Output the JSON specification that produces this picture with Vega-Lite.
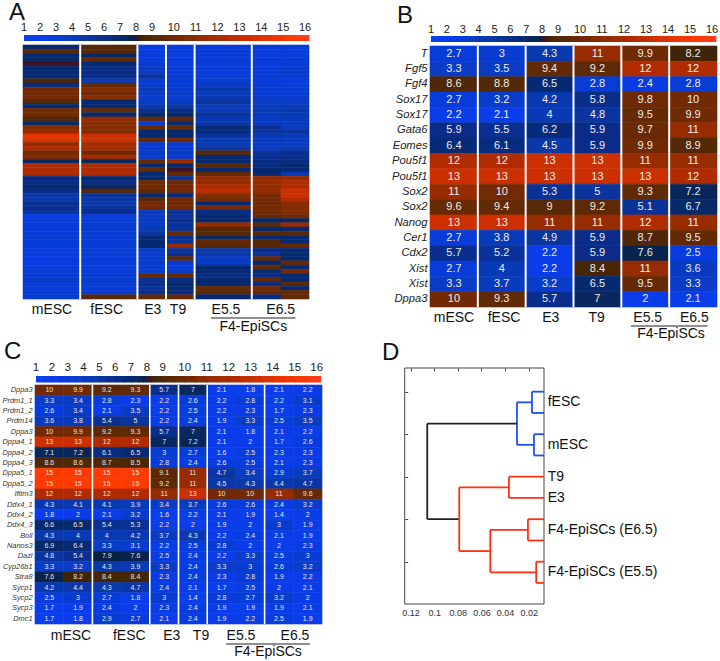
{"$schema":"https://vega.github.io/schema/vega-lite/v6.json","padding":0,"config":{"font":"Liberation Sans","view":{"stroke":null}},
"datasets":{
"aEnds":[{"c":1,"e":2},{"c":2,"e":3},{"c":3,"e":4},{"c":4,"e":5},{"c":5,"e":6},{"c":6,"e":7},{"c":7,"e":8}],
"levels":[{"l":1},{"l":2},{"l":3},{"l":4},{"l":5},{"l":6},{"l":7},{"l":8},{"l":9},{"l":10},{"l":11},{"l":12},{"l":13},{"l":14},{"l":15},{"l":16}],
"bar":[{"l":1,"n":1.55},{"l":1.5,"n":2.05},{"l":2,"n":2.55},{"l":2.5,"n":3.05},{"l":3,"n":3.55},{"l":3.5,"n":4.05},{"l":4,"n":4.55},{"l":4.5,"n":5.05},{"l":5,"n":5.55},{"l":5.5,"n":6.05},{"l":6,"n":6.55},{"l":6.5,"n":7.05},{"l":7,"n":7.55},{"l":7.5,"n":7.8},{"l":7.75,"n":8.05},{"l":8,"n":8.3},{"l":8.25,"n":8.55},{"l":8.5,"n":9.05},{"l":9,"n":9.55},{"l":9.5,"n":10.05},{"l":10,"n":10.55},{"l":10.5,"n":11.05},{"l":11,"n":11.55},{"l":11.5,"n":12.05},{"l":12,"n":12.55},{"l":12.5,"n":13.05},{"l":13,"n":13.55},{"l":13.5,"n":14.05},{"l":14,"n":14.55},{"l":14.5,"n":15.05},{"l":15,"n":15.55},{"l":15.5,"n":16.05},{"l":16,"n":16.2}],
"groups":[{"group":"mESC","order":1,"line":1},{"group":"fESC","order":2,"line":1},{"group":"E3","order":3,"line":1},{"group":"T9","order":4,"line":1},{"group":"E5.5","order":5,"line":1},{"group":"E6.5","order":6,"line":1},{"group":"F4-EpiSCs","order":5.5,"line":2}],
"sep10":[{"at":2},{"at":4},{"at":5},{"at":6},{"at":8}],
"sep6":[{"at":1},{"at":2},{"at":3},{"at":4},{"at":5}],
"a":[
{"r":0,"c":1,"v":6.5},{"r":0,"c":2,"v":9},{"r":0,"c":3,"v":2.5},{"r":0,"c":4,"v":2.5},{"r":0,"c":5,"v":2.7},{"r":0,"c":6,"v":2.7},{"r":0,"c":7,"v":2.7},
{"r":1,"c":1,"v":9},{"r":1,"c":2,"v":9},{"r":1,"c":3,"v":2.5},{"r":1,"c":4,"v":2.7},{"r":1,"c":5,"v":3},{"r":1,"c":6,"v":2.8},{"r":1,"c":7,"v":2.8},
{"r":2,"c":1,"v":6.5},{"r":2,"c":2,"v":7},{"r":2,"c":3,"v":2.7},{"r":2,"c":4,"v":2.5},{"r":2,"c":5,"v":2.7},{"r":2,"c":6,"v":2.7},{"r":2,"c":7,"v":2.7},
{"r":3,"c":1,"v":6.8},{"r":3,"c":2,"v":9.5},{"r":3,"c":3,"v":2.5},{"r":3,"c":4,"v":2.6},{"r":3,"c":5,"v":2.9},{"r":3,"c":6,"v":2.9},{"r":3,"c":7,"v":3},
{"r":4,"c":1,"v":8},{"r":4,"c":2,"v":6.5},{"r":4,"c":3,"v":3},{"r":4,"c":4,"v":2.5},{"r":4,"c":5,"v":2.7},{"r":4,"c":6,"v":2.6},{"r":4,"c":7,"v":2.6},
{"r":5,"c":1,"v":6.5},{"r":5,"c":2,"v":6},{"r":5,"c":3,"v":3.5},{"r":5,"c":4,"v":2.8},{"r":5,"c":5,"v":2.6},{"r":5,"c":6,"v":2.5},{"r":5,"c":7,"v":2.8},
{"r":6,"c":1,"v":6.5},{"r":6,"c":2,"v":6},{"r":6,"c":3,"v":3.2},{"r":6,"c":4,"v":2.5},{"r":6,"c":5,"v":2.5},{"r":6,"c":6,"v":2.7},{"r":6,"c":7,"v":3.3},
{"r":7,"c":1,"v":6.2},{"r":7,"c":2,"v":5.8},{"r":7,"c":3,"v":5},{"r":7,"c":4,"v":3},{"r":7,"c":5,"v":2.8},{"r":7,"c":6,"v":2.9},{"r":7,"c":7,"v":2.7},
{"r":8,"c":1,"v":8.5},{"r":8,"c":2,"v":4},{"r":8,"c":3,"v":3},{"r":8,"c":4,"v":2.6},{"r":8,"c":5,"v":3},{"r":8,"c":6,"v":2.5},{"r":8,"c":7,"v":2.5},
{"r":9,"c":1,"v":6},{"r":9,"c":2,"v":9.5},{"r":9,"c":3,"v":3},{"r":9,"c":4,"v":3},{"r":9,"c":5,"v":3.5},{"r":9,"c":6,"v":3},{"r":9,"c":7,"v":2.8},
{"r":10,"c":1,"v":10},{"r":10,"c":2,"v":10.5},{"r":10,"c":3,"v":4},{"r":10,"c":4,"v":3},{"r":10,"c":5,"v":4.5},{"r":10,"c":6,"v":2.7},{"r":10,"c":7,"v":3},
{"r":11,"c":1,"v":10},{"r":11,"c":2,"v":10},{"r":11,"c":3,"v":3.5},{"r":11,"c":4,"v":3.5},{"r":11,"c":5,"v":3.8},{"r":11,"c":6,"v":3},{"r":11,"c":7,"v":2.8},
{"r":12,"c":1,"v":10},{"r":12,"c":2,"v":10.5},{"r":12,"c":3,"v":3},{"r":12,"c":4,"v":3},{"r":12,"c":5,"v":4},{"r":12,"c":6,"v":3.2},{"r":12,"c":7,"v":3.2},
{"r":13,"c":1,"v":8.8},{"r":13,"c":2,"v":6.5},{"r":13,"c":3,"v":3.5},{"r":13,"c":4,"v":3.5},{"r":13,"c":5,"v":5},{"r":13,"c":6,"v":3.5},{"r":13,"c":7,"v":3.3},
{"r":14,"c":1,"v":6.5},{"r":14,"c":2,"v":6.5},{"r":14,"c":3,"v":4},{"r":14,"c":4,"v":4.5},{"r":14,"c":5,"v":4},{"r":14,"c":6,"v":3.5},{"r":14,"c":7,"v":3.8},
{"r":15,"c":1,"v":10},{"r":15,"c":2,"v":9.5},{"r":15,"c":3,"v":5.5},{"r":15,"c":4,"v":6},{"r":15,"c":5,"v":3.8},{"r":15,"c":6,"v":4},{"r":15,"c":7,"v":4.2},
{"r":16,"c":1,"v":10},{"r":16,"c":2,"v":6.5},{"r":16,"c":3,"v":6.5},{"r":16,"c":4,"v":6.5},{"r":16,"c":5,"v":5},{"r":16,"c":6,"v":3.8},{"r":16,"c":7,"v":4},
{"r":17,"c":1,"v":8.8},{"r":17,"c":2,"v":11},{"r":17,"c":3,"v":9.5},{"r":17,"c":4,"v":9.5},{"r":17,"c":5,"v":4},{"r":17,"c":6,"v":3.5},{"r":17,"c":7,"v":3.8},
{"r":18,"c":1,"v":6.8},{"r":18,"c":2,"v":10.5},{"r":18,"c":3,"v":3},{"r":18,"c":4,"v":6.5},{"r":18,"c":5,"v":4.5},{"r":18,"c":6,"v":3.5},{"r":18,"c":7,"v":3.6},
{"r":19,"c":1,"v":10.5},{"r":19,"c":2,"v":10.5},{"r":19,"c":3,"v":9.5},{"r":19,"c":4,"v":9.5},{"r":19,"c":5,"v":6.5},{"r":19,"c":6,"v":5.5},{"r":19,"c":7,"v":3.8},
{"r":20,"c":1,"v":11},{"r":20,"c":2,"v":10.5},{"r":20,"c":3,"v":6.5},{"r":20,"c":4,"v":6.5},{"r":20,"c":5,"v":6},{"r":20,"c":6,"v":5},{"r":20,"c":7,"v":5},
{"r":21,"c":1,"v":14},{"r":21,"c":2,"v":13},{"r":21,"c":3,"v":6.5},{"r":21,"c":4,"v":6.5},{"r":21,"c":5,"v":5},{"r":21,"c":6,"v":4},{"r":21,"c":7,"v":4},
{"r":22,"c":1,"v":13.5},{"r":22,"c":2,"v":13},{"r":22,"c":3,"v":9.5},{"r":22,"c":4,"v":10},{"r":22,"c":5,"v":4},{"r":22,"c":6,"v":3.5},{"r":22,"c":7,"v":3.5},
{"r":23,"c":1,"v":11},{"r":23,"c":2,"v":11.5},{"r":23,"c":3,"v":3},{"r":23,"c":4,"v":3},{"r":23,"c":5,"v":4},{"r":23,"c":6,"v":3.5},{"r":23,"c":7,"v":3.5},
{"r":24,"c":1,"v":12},{"r":24,"c":2,"v":11.5},{"r":24,"c":3,"v":3},{"r":24,"c":4,"v":3},{"r":24,"c":5,"v":4.5},{"r":24,"c":6,"v":3.5},{"r":24,"c":7,"v":4},
{"r":25,"c":1,"v":10},{"r":25,"c":2,"v":10},{"r":25,"c":3,"v":3.5},{"r":25,"c":4,"v":3.5},{"r":25,"c":5,"v":9},{"r":25,"c":6,"v":5},{"r":25,"c":7,"v":5.5},
{"r":26,"c":1,"v":10.5},{"r":26,"c":2,"v":11.5},{"r":26,"c":3,"v":3},{"r":26,"c":4,"v":3},{"r":26,"c":5,"v":6.5},{"r":26,"c":6,"v":5.5},{"r":26,"c":7,"v":5.5},
{"r":27,"c":1,"v":7},{"r":27,"c":2,"v":7},{"r":27,"c":3,"v":9.5},{"r":27,"c":4,"v":11},{"r":27,"c":5,"v":6.5},{"r":27,"c":6,"v":6},{"r":27,"c":7,"v":6},
{"r":28,"c":1,"v":12},{"r":28,"c":2,"v":12},{"r":28,"c":3,"v":6.5},{"r":28,"c":4,"v":6.5},{"r":28,"c":5,"v":9},{"r":28,"c":6,"v":6},{"r":28,"c":7,"v":6.5},
{"r":29,"c":1,"v":12},{"r":29,"c":2,"v":12},{"r":29,"c":3,"v":9.5},{"r":29,"c":4,"v":8},{"r":29,"c":5,"v":6.5},{"r":29,"c":6,"v":6.5},{"r":29,"c":7,"v":6.5},
{"r":30,"c":1,"v":12},{"r":30,"c":2,"v":12},{"r":30,"c":3,"v":6.5},{"r":30,"c":4,"v":9.5},{"r":30,"c":5,"v":9.5},{"r":30,"c":6,"v":6.5},{"r":30,"c":7,"v":4},
{"r":31,"c":1,"v":6},{"r":31,"c":2,"v":6.5},{"r":31,"c":3,"v":6.5},{"r":31,"c":4,"v":5},{"r":31,"c":5,"v":11},{"r":31,"c":6,"v":11},{"r":31,"c":7,"v":11},
{"r":32,"c":1,"v":6},{"r":32,"c":2,"v":6},{"r":32,"c":3,"v":10},{"r":32,"c":4,"v":10},{"r":32,"c":5,"v":11},{"r":32,"c":6,"v":11},{"r":32,"c":7,"v":12},
{"r":33,"c":1,"v":6.5},{"r":33,"c":2,"v":7},{"r":33,"c":3,"v":10},{"r":33,"c":4,"v":10},{"r":33,"c":5,"v":12},{"r":33,"c":6,"v":11},{"r":33,"c":7,"v":12},
{"r":34,"c":1,"v":6},{"r":34,"c":2,"v":9},{"r":34,"c":3,"v":9.5},{"r":34,"c":4,"v":10},{"r":34,"c":5,"v":12.5},{"r":34,"c":6,"v":11},{"r":34,"c":7,"v":13},
{"r":35,"c":1,"v":4.5},{"r":35,"c":2,"v":5},{"r":35,"c":3,"v":6.5},{"r":35,"c":4,"v":6},{"r":35,"c":5,"v":10.5},{"r":35,"c":6,"v":10},{"r":35,"c":7,"v":13},
{"r":36,"c":1,"v":4.5},{"r":36,"c":2,"v":4.5},{"r":36,"c":3,"v":9},{"r":36,"c":4,"v":10},{"r":36,"c":5,"v":10},{"r":36,"c":6,"v":10},{"r":36,"c":7,"v":12},
{"r":37,"c":1,"v":5.5},{"r":37,"c":2,"v":4.5},{"r":37,"c":3,"v":10},{"r":37,"c":4,"v":10},{"r":37,"c":5,"v":6.5},{"r":37,"c":6,"v":10},{"r":37,"c":7,"v":10.5},
{"r":38,"c":1,"v":5.5},{"r":38,"c":2,"v":5},{"r":38,"c":3,"v":10},{"r":38,"c":4,"v":10},{"r":38,"c":5,"v":10},{"r":38,"c":6,"v":10},{"r":38,"c":7,"v":10.5},
{"r":39,"c":1,"v":5},{"r":39,"c":2,"v":5.5},{"r":39,"c":3,"v":3.5},{"r":39,"c":4,"v":5},{"r":39,"c":5,"v":6},{"r":39,"c":6,"v":10},{"r":39,"c":7,"v":10.5},
{"r":40,"c":1,"v":2.5},{"r":40,"c":2,"v":2.7},{"r":40,"c":3,"v":3.5},{"r":40,"c":4,"v":5},{"r":40,"c":5,"v":6.5},{"r":40,"c":6,"v":9.5},{"r":40,"c":7,"v":10},
{"r":41,"c":1,"v":2.5},{"r":41,"c":2,"v":2.6},{"r":41,"c":3,"v":3.5},{"r":41,"c":4,"v":5.5},{"r":41,"c":5,"v":6.5},{"r":41,"c":6,"v":6.5},{"r":41,"c":7,"v":7},
{"r":42,"c":1,"v":2.7},{"r":42,"c":2,"v":3},{"r":42,"c":3,"v":3.5},{"r":42,"c":4,"v":5},{"r":42,"c":5,"v":11},{"r":42,"c":6,"v":9},{"r":42,"c":7,"v":11},
{"r":43,"c":1,"v":2.8},{"r":43,"c":2,"v":3},{"r":43,"c":3,"v":4},{"r":43,"c":4,"v":5},{"r":43,"c":5,"v":9},{"r":43,"c":6,"v":6.5},{"r":43,"c":7,"v":6.5},
{"r":44,"c":1,"v":2.7},{"r":44,"c":2,"v":3},{"r":44,"c":3,"v":5},{"r":44,"c":4,"v":9.5},{"r":44,"c":5,"v":9},{"r":44,"c":6,"v":9},{"r":44,"c":7,"v":9},
{"r":45,"c":1,"v":3},{"r":45,"c":2,"v":2.9},{"r":45,"c":3,"v":6.5},{"r":45,"c":4,"v":5.5},{"r":45,"c":5,"v":7},{"r":45,"c":6,"v":6.5},{"r":45,"c":7,"v":6.5},
{"r":46,"c":1,"v":2.8},{"r":46,"c":2,"v":2.8},{"r":46,"c":3,"v":6.5},{"r":46,"c":4,"v":5},{"r":46,"c":5,"v":9.5},{"r":46,"c":6,"v":8.8},{"r":46,"c":7,"v":6.5},
{"r":47,"c":1,"v":2.6},{"r":47,"c":2,"v":3},{"r":47,"c":3,"v":6.5},{"r":47,"c":4,"v":11},{"r":47,"c":5,"v":9},{"r":47,"c":6,"v":9},{"r":47,"c":7,"v":9.5},
{"r":48,"c":1,"v":2.5},{"r":48,"c":2,"v":2.7},{"r":48,"c":3,"v":3.5},{"r":48,"c":4,"v":5},{"r":48,"c":5,"v":4.5},{"r":48,"c":6,"v":6},{"r":48,"c":7,"v":6.5},
{"r":49,"c":1,"v":2.5},{"r":49,"c":2,"v":2.8},{"r":49,"c":3,"v":3.2},{"r":49,"c":4,"v":5.5},{"r":49,"c":5,"v":4.5},{"r":49,"c":6,"v":5},{"r":49,"c":7,"v":6.5},
{"r":50,"c":1,"v":2.3},{"r":50,"c":2,"v":2.5},{"r":50,"c":3,"v":3.2},{"r":50,"c":4,"v":9.5},{"r":50,"c":5,"v":3.5},{"r":50,"c":6,"v":9.5},{"r":50,"c":7,"v":6.5},
{"r":51,"c":1,"v":2.5},{"r":51,"c":2,"v":2.7},{"r":51,"c":3,"v":3.2},{"r":51,"c":4,"v":3},{"r":51,"c":5,"v":3.5},{"r":51,"c":6,"v":6.5},{"r":51,"c":7,"v":9.5},
{"r":52,"c":1,"v":2.7},{"r":52,"c":2,"v":2.7},{"r":52,"c":3,"v":3},{"r":52,"c":4,"v":2.8},{"r":52,"c":5,"v":6.5},{"r":52,"c":6,"v":9.5},{"r":52,"c":7,"v":6.5},
{"r":53,"c":1,"v":3},{"r":53,"c":2,"v":2.8},{"r":53,"c":3,"v":3.2},{"r":53,"c":4,"v":3.5},{"r":53,"c":5,"v":6.5},{"r":53,"c":6,"v":6.5},{"r":53,"c":7,"v":10},
{"r":54,"c":1,"v":3},{"r":54,"c":2,"v":3},{"r":54,"c":3,"v":9.5},{"r":54,"c":4,"v":9.5},{"r":54,"c":5,"v":6},{"r":54,"c":6,"v":6},{"r":54,"c":7,"v":6.5},
{"r":55,"c":1,"v":3.5},{"r":55,"c":2,"v":3.2},{"r":55,"c":3,"v":5.5},{"r":55,"c":4,"v":6},{"r":55,"c":5,"v":6.5},{"r":55,"c":6,"v":9.5},{"r":55,"c":7,"v":6.5},
{"r":56,"c":1,"v":2.8},{"r":56,"c":2,"v":3},{"r":56,"c":3,"v":5.5},{"r":56,"c":4,"v":6.5},{"r":56,"c":5,"v":6.5},{"r":56,"c":6,"v":6},{"r":56,"c":7,"v":9},
{"r":57,"c":1,"v":2.7},{"r":57,"c":2,"v":2.7},{"r":57,"c":3,"v":5},{"r":57,"c":4,"v":6.5},{"r":57,"c":5,"v":9.5},{"r":57,"c":6,"v":10},{"r":57,"c":7,"v":6.5},
{"r":58,"c":1,"v":2.8},{"r":58,"c":2,"v":3},{"r":58,"c":3,"v":5.5},{"r":58,"c":4,"v":6},{"r":58,"c":5,"v":9},{"r":58,"c":6,"v":9.5},{"r":58,"c":7,"v":9.5},
{"r":59,"c":1,"v":3},{"r":59,"c":2,"v":9},{"r":59,"c":3,"v":9.5},{"r":59,"c":4,"v":9.5},{"r":59,"c":5,"v":6.5},{"r":59,"c":6,"v":6},{"r":59,"c":7,"v":9.5}],
"b":[
{"g":"T","c":1,"v":2.7},{"g":"T","c":2,"v":3},{"g":"T","c":3,"v":4.3},{"g":"T","c":4,"v":11},{"g":"T","c":5,"v":9.9},{"g":"T","c":6,"v":8.2},
{"g":"Fgf5","c":1,"v":3.3},{"g":"Fgf5","c":2,"v":3.5},{"g":"Fgf5","c":3,"v":9.4},{"g":"Fgf5","c":4,"v":9.2},{"g":"Fgf5","c":5,"v":12},{"g":"Fgf5","c":6,"v":12},
{"g":"Fgf4","c":1,"v":8.6},{"g":"Fgf4","c":2,"v":8.8},{"g":"Fgf4","c":3,"v":6.5},{"g":"Fgf4","c":4,"v":2.8},{"g":"Fgf4","c":5,"v":2.4},{"g":"Fgf4","c":6,"v":2.8},
{"g":"Sox17#1","c":1,"v":2.7},{"g":"Sox17#1","c":2,"v":3.2},{"g":"Sox17#1","c":3,"v":4.2},{"g":"Sox17#1","c":4,"v":5.8},{"g":"Sox17#1","c":5,"v":9.8},{"g":"Sox17#1","c":6,"v":10},
{"g":"Sox17#2","c":1,"v":2.2},{"g":"Sox17#2","c":2,"v":2.1},{"g":"Sox17#2","c":3,"v":4},{"g":"Sox17#2","c":4,"v":4.8},{"g":"Sox17#2","c":5,"v":9.5},{"g":"Sox17#2","c":6,"v":9.9},
{"g":"Gata6","c":1,"v":5.9},{"g":"Gata6","c":2,"v":5.5},{"g":"Gata6","c":3,"v":6.2},{"g":"Gata6","c":4,"v":5.9},{"g":"Gata6","c":5,"v":9.7},{"g":"Gata6","c":6,"v":11},
{"g":"Eomes","c":1,"v":6.4},{"g":"Eomes","c":2,"v":6.1},{"g":"Eomes","c":3,"v":4.5},{"g":"Eomes","c":4,"v":5.9},{"g":"Eomes","c":5,"v":9.9},{"g":"Eomes","c":6,"v":8.9},
{"g":"Pou5f1#1","c":1,"v":12},{"g":"Pou5f1#1","c":2,"v":12},{"g":"Pou5f1#1","c":3,"v":13},{"g":"Pou5f1#1","c":4,"v":13},{"g":"Pou5f1#1","c":5,"v":11},{"g":"Pou5f1#1","c":6,"v":11},
{"g":"Pou5f1#2","c":1,"v":13},{"g":"Pou5f1#2","c":2,"v":13},{"g":"Pou5f1#2","c":3,"v":13},{"g":"Pou5f1#2","c":4,"v":13},{"g":"Pou5f1#2","c":5,"v":13},{"g":"Pou5f1#2","c":6,"v":12},
{"g":"Sox2#1","c":1,"v":11},{"g":"Sox2#1","c":2,"v":10},{"g":"Sox2#1","c":3,"v":5.3},{"g":"Sox2#1","c":4,"v":5},{"g":"Sox2#1","c":5,"v":9.3},{"g":"Sox2#1","c":6,"v":7.2},
{"g":"Sox2#2","c":1,"v":9.6},{"g":"Sox2#2","c":2,"v":9.4},{"g":"Sox2#2","c":3,"v":9},{"g":"Sox2#2","c":4,"v":9.2},{"g":"Sox2#2","c":5,"v":5.1},{"g":"Sox2#2","c":6,"v":6.7},
{"g":"Nanog","c":1,"v":13},{"g":"Nanog","c":2,"v":13},{"g":"Nanog","c":3,"v":11},{"g":"Nanog","c":4,"v":11},{"g":"Nanog","c":5,"v":12},{"g":"Nanog","c":6,"v":11},
{"g":"Cer1","c":1,"v":2.7},{"g":"Cer1","c":2,"v":3.8},{"g":"Cer1","c":3,"v":4.9},{"g":"Cer1","c":4,"v":5.9},{"g":"Cer1","c":5,"v":8.7},{"g":"Cer1","c":6,"v":9.5},
{"g":"Cdx2","c":1,"v":5.7},{"g":"Cdx2","c":2,"v":5.2},{"g":"Cdx2","c":3,"v":2.2},{"g":"Cdx2","c":4,"v":5.9},{"g":"Cdx2","c":5,"v":7.6},{"g":"Cdx2","c":6,"v":2.5},
{"g":"Xist#1","c":1,"v":2.7},{"g":"Xist#1","c":2,"v":4},{"g":"Xist#1","c":3,"v":2.2},{"g":"Xist#1","c":4,"v":8.4},{"g":"Xist#1","c":5,"v":11},{"g":"Xist#1","c":6,"v":3.6},
{"g":"Xist#2","c":1,"v":3.3},{"g":"Xist#2","c":2,"v":3.7},{"g":"Xist#2","c":3,"v":3.2},{"g":"Xist#2","c":4,"v":6.5},{"g":"Xist#2","c":5,"v":9.5},{"g":"Xist#2","c":6,"v":3.3},
{"g":"Dppa3","c":1,"v":10},{"g":"Dppa3","c":2,"v":9.3},{"g":"Dppa3","c":3,"v":5.7},{"g":"Dppa3","c":4,"v":7},{"g":"Dppa3","c":5,"v":2},{"g":"Dppa3","c":6,"v":2.1}],
"c":[
{"g":"Dppa3#1","c":1,"v":10},{"g":"Dppa3#1","c":2,"v":9.9},{"g":"Dppa3#1","c":3,"v":9.2},{"g":"Dppa3#1","c":4,"v":9.3},{"g":"Dppa3#1","c":5,"v":5.7},{"g":"Dppa3#1","c":6,"v":7},{"g":"Dppa3#1","c":7,"v":2.1},{"g":"Dppa3#1","c":8,"v":1.8},{"g":"Dppa3#1","c":9,"v":2.1},{"g":"Dppa3#1","c":10,"v":2.2},
{"g":"Prdm1_1","c":1,"v":3.3},{"g":"Prdm1_1","c":2,"v":3.4},{"g":"Prdm1_1","c":3,"v":2.8},{"g":"Prdm1_1","c":4,"v":2.3},{"g":"Prdm1_1","c":5,"v":2.2},{"g":"Prdm1_1","c":6,"v":2.6},{"g":"Prdm1_1","c":7,"v":2.2},{"g":"Prdm1_1","c":8,"v":2.8},{"g":"Prdm1_1","c":9,"v":2.2},{"g":"Prdm1_1","c":10,"v":3.1},
{"g":"Prdm1_2","c":1,"v":2.6},{"g":"Prdm1_2","c":2,"v":3.4},{"g":"Prdm1_2","c":3,"v":2.1},{"g":"Prdm1_2","c":4,"v":3.5},{"g":"Prdm1_2","c":5,"v":2.2},{"g":"Prdm1_2","c":6,"v":2.5},{"g":"Prdm1_2","c":7,"v":2.2},{"g":"Prdm1_2","c":8,"v":2.3},{"g":"Prdm1_2","c":9,"v":1.7},{"g":"Prdm1_2","c":10,"v":2.3},
{"g":"Prdm14","c":1,"v":3.6},{"g":"Prdm14","c":2,"v":3.8},{"g":"Prdm14","c":3,"v":5.4},{"g":"Prdm14","c":4,"v":5},{"g":"Prdm14","c":5,"v":2.2},{"g":"Prdm14","c":6,"v":2.4},{"g":"Prdm14","c":7,"v":1.9},{"g":"Prdm14","c":8,"v":3.3},{"g":"Prdm14","c":9,"v":2.5},{"g":"Prdm14","c":10,"v":3.5},
{"g":"Dppa3#2","c":1,"v":10},{"g":"Dppa3#2","c":2,"v":9.9},{"g":"Dppa3#2","c":3,"v":9.2},{"g":"Dppa3#2","c":4,"v":9.3},{"g":"Dppa3#2","c":5,"v":5.7},{"g":"Dppa3#2","c":6,"v":7},{"g":"Dppa3#2","c":7,"v":2.1},{"g":"Dppa3#2","c":8,"v":1.8},{"g":"Dppa3#2","c":9,"v":2.1},{"g":"Dppa3#2","c":10,"v":2.2},
{"g":"Dppa4_1","c":1,"v":13},{"g":"Dppa4_1","c":2,"v":13},{"g":"Dppa4_1","c":3,"v":12},{"g":"Dppa4_1","c":4,"v":12},{"g":"Dppa4_1","c":5,"v":7},{"g":"Dppa4_1","c":6,"v":7.2},{"g":"Dppa4_1","c":7,"v":2.1},{"g":"Dppa4_1","c":8,"v":2},{"g":"Dppa4_1","c":9,"v":1.7},{"g":"Dppa4_1","c":10,"v":2.6},
{"g":"Dppa4_2","c":1,"v":7.1},{"g":"Dppa4_2","c":2,"v":7.2},{"g":"Dppa4_2","c":3,"v":6.1},{"g":"Dppa4_2","c":4,"v":6.5},{"g":"Dppa4_2","c":5,"v":3},{"g":"Dppa4_2","c":6,"v":2.7},{"g":"Dppa4_2","c":7,"v":1.6},{"g":"Dppa4_2","c":8,"v":2.5},{"g":"Dppa4_2","c":9,"v":2.3},{"g":"Dppa4_2","c":10,"v":2.3},
{"g":"Dppa4_3","c":1,"v":8.6},{"g":"Dppa4_3","c":2,"v":8.6},{"g":"Dppa4_3","c":3,"v":8.7},{"g":"Dppa4_3","c":4,"v":8.5},{"g":"Dppa4_3","c":5,"v":2.8},{"g":"Dppa4_3","c":6,"v":2.4},{"g":"Dppa4_3","c":7,"v":2.6},{"g":"Dppa4_3","c":8,"v":2.5},{"g":"Dppa4_3","c":9,"v":2.1},{"g":"Dppa4_3","c":10,"v":2.3},
{"g":"Dppa5_1","c":1,"v":15},{"g":"Dppa5_1","c":2,"v":15},{"g":"Dppa5_1","c":3,"v":15},{"g":"Dppa5_1","c":4,"v":15},{"g":"Dppa5_1","c":5,"v":9.1},{"g":"Dppa5_1","c":6,"v":11},{"g":"Dppa5_1","c":7,"v":4.7},{"g":"Dppa5_1","c":8,"v":3.4},{"g":"Dppa5_1","c":9,"v":2.9},{"g":"Dppa5_1","c":10,"v":3.7},
{"g":"Dppa5_2","c":1,"v":15},{"g":"Dppa5_2","c":2,"v":15},{"g":"Dppa5_2","c":3,"v":15},{"g":"Dppa5_2","c":4,"v":15},{"g":"Dppa5_2","c":5,"v":9.2},{"g":"Dppa5_2","c":6,"v":11},{"g":"Dppa5_2","c":7,"v":4.5},{"g":"Dppa5_2","c":8,"v":4.3},{"g":"Dppa5_2","c":9,"v":4.4},{"g":"Dppa5_2","c":10,"v":4.7},
{"g":"Ifitm3","c":1,"v":12},{"g":"Ifitm3","c":2,"v":12},{"g":"Ifitm3","c":3,"v":12},{"g":"Ifitm3","c":4,"v":12},{"g":"Ifitm3","c":5,"v":11},{"g":"Ifitm3","c":6,"v":13},{"g":"Ifitm3","c":7,"v":10},{"g":"Ifitm3","c":8,"v":10},{"g":"Ifitm3","c":9,"v":11},{"g":"Ifitm3","c":10,"v":9.6},
{"g":"Ddx4_1","c":1,"v":4.3},{"g":"Ddx4_1","c":2,"v":4.1},{"g":"Ddx4_1","c":3,"v":4.1},{"g":"Ddx4_1","c":4,"v":3.9},{"g":"Ddx4_1","c":5,"v":3.4},{"g":"Ddx4_1","c":6,"v":3.7},{"g":"Ddx4_1","c":7,"v":2.6},{"g":"Ddx4_1","c":8,"v":2.6},{"g":"Ddx4_1","c":9,"v":2.4},{"g":"Ddx4_1","c":10,"v":3.2},
{"g":"Ddx4_2","c":1,"v":1.8},{"g":"Ddx4_2","c":2,"v":2},{"g":"Ddx4_2","c":3,"v":2.1},{"g":"Ddx4_2","c":4,"v":3.2},{"g":"Ddx4_2","c":5,"v":1.6},{"g":"Ddx4_2","c":6,"v":2.2},{"g":"Ddx4_2","c":7,"v":2.1},{"g":"Ddx4_2","c":8,"v":1.9},{"g":"Ddx4_2","c":9,"v":1.4},{"g":"Ddx4_2","c":10,"v":2},
{"g":"Ddx4_3","c":1,"v":6.6},{"g":"Ddx4_3","c":2,"v":6.5},{"g":"Ddx4_3","c":3,"v":5.4},{"g":"Ddx4_3","c":4,"v":5.3},{"g":"Ddx4_3","c":5,"v":2.2},{"g":"Ddx4_3","c":6,"v":2},{"g":"Ddx4_3","c":7,"v":1.9},{"g":"Ddx4_3","c":8,"v":2},{"g":"Ddx4_3","c":9,"v":3},{"g":"Ddx4_3","c":10,"v":1.9},
{"g":"Boll","c":1,"v":4.3},{"g":"Boll","c":2,"v":4},{"g":"Boll","c":3,"v":4},{"g":"Boll","c":4,"v":4.2},{"g":"Boll","c":5,"v":3.7},{"g":"Boll","c":6,"v":4.3},{"g":"Boll","c":7,"v":2.2},{"g":"Boll","c":8,"v":2.4},{"g":"Boll","c":9,"v":2.1},{"g":"Boll","c":10,"v":1.9},
{"g":"Nanos3","c":1,"v":6.9},{"g":"Nanos3","c":2,"v":6.4},{"g":"Nanos3","c":3,"v":3.3},{"g":"Nanos3","c":4,"v":3.1},{"g":"Nanos3","c":5,"v":2.2},{"g":"Nanos3","c":6,"v":2.5},{"g":"Nanos3","c":7,"v":2.8},{"g":"Nanos3","c":8,"v":2},{"g":"Nanos3","c":9,"v":2},{"g":"Nanos3","c":10,"v":2.3},
{"g":"Dazl","c":1,"v":4.8},{"g":"Dazl","c":2,"v":5.4},{"g":"Dazl","c":3,"v":7.9},{"g":"Dazl","c":4,"v":7.6},{"g":"Dazl","c":5,"v":2.5},{"g":"Dazl","c":6,"v":2.4},{"g":"Dazl","c":7,"v":2.2},{"g":"Dazl","c":8,"v":3.3},{"g":"Dazl","c":9,"v":2.5},{"g":"Dazl","c":10,"v":3},
{"g":"Cyp26b1","c":1,"v":3.3},{"g":"Cyp26b1","c":2,"v":3.2},{"g":"Cyp26b1","c":3,"v":4.3},{"g":"Cyp26b1","c":4,"v":3.9},{"g":"Cyp26b1","c":5,"v":3.3},{"g":"Cyp26b1","c":6,"v":2.4},{"g":"Cyp26b1","c":7,"v":3.3},{"g":"Cyp26b1","c":8,"v":3},{"g":"Cyp26b1","c":9,"v":2.6},{"g":"Cyp26b1","c":10,"v":3.2},
{"g":"Stra8","c":1,"v":7.6},{"g":"Stra8","c":2,"v":8.2},{"g":"Stra8","c":3,"v":8.4},{"g":"Stra8","c":4,"v":8.4},{"g":"Stra8","c":5,"v":2.3},{"g":"Stra8","c":6,"v":2.4},{"g":"Stra8","c":7,"v":2.3},{"g":"Stra8","c":8,"v":2.8},{"g":"Stra8","c":9,"v":1.9},{"g":"Stra8","c":10,"v":2.2},
{"g":"Sycp1","c":1,"v":4.2},{"g":"Sycp1","c":2,"v":4.4},{"g":"Sycp1","c":3,"v":4.3},{"g":"Sycp1","c":4,"v":4.7},{"g":"Sycp1","c":5,"v":2.4},{"g":"Sycp1","c":6,"v":2.1},{"g":"Sycp1","c":7,"v":1.7},{"g":"Sycp1","c":8,"v":2.5},{"g":"Sycp1","c":9,"v":2},{"g":"Sycp1","c":10,"v":2.1},
{"g":"Sycp2","c":1,"v":2.5},{"g":"Sycp2","c":2,"v":3},{"g":"Sycp2","c":3,"v":2.7},{"g":"Sycp2","c":4,"v":1.8},{"g":"Sycp2","c":5,"v":3},{"g":"Sycp2","c":6,"v":1.4},{"g":"Sycp2","c":7,"v":2.8},{"g":"Sycp2","c":8,"v":2.7},{"g":"Sycp2","c":9,"v":3.2},{"g":"Sycp2","c":10,"v":2},
{"g":"Sycp3","c":1,"v":1.7},{"g":"Sycp3","c":2,"v":1.9},{"g":"Sycp3","c":3,"v":2.4},{"g":"Sycp3","c":4,"v":2},{"g":"Sycp3","c":5,"v":2.3},{"g":"Sycp3","c":6,"v":2.4},{"g":"Sycp3","c":7,"v":1.9},{"g":"Sycp3","c":8,"v":1.9},{"g":"Sycp3","c":9,"v":1.9},{"g":"Sycp3","c":10,"v":2.1},
{"g":"Dmc1","c":1,"v":1.7},{"g":"Dmc1","c":2,"v":1.8},{"g":"Dmc1","c":3,"v":2.9},{"g":"Dmc1","c":4,"v":2.7},{"g":"Dmc1","c":5,"v":2.1},{"g":"Dmc1","c":6,"v":2.4},{"g":"Dmc1","c":7,"v":1.9},{"g":"Dmc1","c":8,"v":2.2},{"g":"Dmc1","c":9,"v":2.5},{"g":"Dmc1","c":10,"v":1.9}],
"links":[
{"a":0.007,"b":0.0172,"p":1,"q":1,"k":"blue"},{"a":0.0172,"b":0.0172,"p":1,"q":2,"k":"blue"},{"a":0.007,"b":0.0172,"p":2,"q":2,"k":"blue"},
{"a":0.007,"b":0.0155,"p":3,"q":3,"k":"blue"},{"a":0.0155,"b":0.0155,"p":3,"q":4,"k":"blue"},{"a":0.007,"b":0.0155,"p":4,"q":4,"k":"blue"},
{"a":0.0172,"b":0.0299,"p":1.5,"q":1.5,"k":"blue"},{"a":0.0155,"b":0.0299,"p":3.5,"q":3.5,"k":"blue"},{"a":0.0299,"b":0.0299,"p":1.5,"q":3.5,"k":"blue"},
{"a":0.0299,"b":0.1059,"p":2.5,"q":2.5,"k":"black"},{"a":0.1059,"b":0.1059,"p":2.5,"q":7,"k":"black"},{"a":0.0788,"b":0.1059,"p":7,"q":7,"k":"black"},
{"a":0.007,"b":0.0367,"p":5,"q":5,"k":"red"},{"a":0.007,"b":0.0367,"p":6,"q":6,"k":"red"},{"a":0.0367,"b":0.0367,"p":5,"q":6,"k":"red"},
{"a":0.0367,"b":0.0788,"p":5.5,"q":5.5,"k":"red"},{"a":0.0788,"b":0.0788,"p":5.5,"q":8.5,"k":"red"},{"a":0.0525,"b":0.0788,"p":8.5,"q":8.5,"k":"red"},
{"a":0.0525,"b":0.0525,"p":7.5,"q":9.5,"k":"red"},{"a":0.0206,"b":0.0525,"p":7.5,"q":7.5,"k":"red"},{"a":0.0136,"b":0.0525,"p":9.5,"q":9.5,"k":"red"},
{"a":0.007,"b":0.0206,"p":7,"q":7,"k":"red"},{"a":0.007,"b":0.0206,"p":8,"q":8,"k":"red"},{"a":0.0206,"b":0.0206,"p":7,"q":8,"k":"red"},
{"a":0.007,"b":0.0136,"p":9,"q":9,"k":"red"},{"a":0.007,"b":0.0136,"p":10,"q":10,"k":"red"},{"a":0.0136,"b":0.0136,"p":9,"q":10,"k":"red"}],
"leaves":[{"name":"fESC","leaf":1.5},{"name":"mESC","leaf":3.5},{"name":"T9","leaf":5},{"name":"E3","leaf":6},{"name":"F4-EpiSCs (E6.5)","leaf":7.5},{"name":"F4-EpiSCs (E5.5)","leaf":9.5}]
},
"columns":2,"spacing":0,"bounds":"flush",
"concat":[
{"width":360,"height":335,
"resolve":{"scale":{"x":"independent","y":"independent"}},
"layer":[
{"data":{"name":"a"},"transform":[{"lookup":"c","from":{"data":{"name":"aEnds"},"key":"c","fields":["e"]}}],"mark":{"type":"rect","strokeWidth":0.6},"encoding":{
"x":{"field":"c","type":"quantitative","axis":null,"scale":{"domain":[1,2,3,4,5,6,7,8],"range":[23,80,137,166,194,252,281,309]}},"x2":{"field":"e"},
"y":{"field":"r","type":"ordinal","sort":null,"axis":null,"scale":{"range":[45,299],"paddingInner":0,"paddingOuter":0}},
"color":{"field":"v","type":"quantitative","legend":null,"scale":{"domain":[1,2.2,3.3,4.5,5.9,7,7.95,8.05,8.6,9.9,11,12,13,15,16],"range":["#0a40f0","#0a3ce8","#0a3cc8","#0a38a8","#0a2c88","#0a2860","#0a2040","#3a2204","#4e2808","#702a04","#962c00","#b02c00","#cc3000","#ff3a00","#ff3c20"]}},
"stroke":{"field":"v","type":"quantitative","legend":null,"scale":{"domain":[1,2.2,3.3,4.5,5.9,7,7.95,8.05,8.6,9.9,11,12,13,15,16],"range":["#0a40f0","#0a3ce8","#0a3cc8","#0a38a8","#0a2c88","#0a2860","#0a2040","#3a2204","#4e2808","#702a04","#962c00","#b02c00","#cc3000","#ff3a00","#ff3c20"]}}}},
{"data":{"name":"sep10"},"mark":{"type":"rule","color":"white","strokeWidth":2},"encoding":{"x":{"field":"at","type":"quantitative","axis":null,"scale":{"domain":[0,10],"range":[23,309]}},"y":{"datum":0,"axis":null,"scale":{"domain":[0,1],"range":[45,299]}},"y2":{"datum":1}}},
{"data":{"name":"bar"},"mark":"rect","encoding":{"x":{"field":"l","type":"quantitative","axis":null,"scale":{"domain":[1,9,16],"range":[24,152,305]}},"x2":{"field":"n"},"y":{"datum":0,"axis":null,"scale":{"domain":[0,1],"range":[35,41]}},"y2":{"datum":1},
"color":{"field":"l","type":"quantitative","legend":null,"scale":{"domain":[1,2.2,3.3,4.5,5.9,7,7.95,8.05,8.6,9.9,11,12,13,15,16],"range":["#0a40f0","#0a3ce8","#0a3cc8","#0a38a8","#0a2c88","#0a2860","#0a2040","#3a2204","#4e2808","#702a04","#962c00","#b02c00","#cc3000","#ff3a00","#ff3c20"]}}}},
{"data":{"name":"levels"},"mark":{"type":"text","fontSize":11,"color":"#222"},"encoding":{"x":{"field":"l","type":"quantitative","axis":null,"scale":{"domain":[1,9,16],"range":[24,152,305]}},"y":{"datum":0,"axis":null,"scale":{"domain":[0,1],"range":[28,35]}},"text":{"field":"l","type":"nominal"}}},
{"data":{"name":"groups"},"mark":{"type":"text","fontSize":14,"color":"#111"},"encoding":{"x":{"field":"order","type":"quantitative","axis":null,"scale":{"domain":[1,2,3,4,5,6],"range":[52,106.7,152.7,178,226,280.7]}},"y":{"field":"line","type":"quantitative","axis":null,"scale":{"domain":[1,2],"range":[310,327]}},"text":{"field":"group","type":"nominal"}}},
{"data":{"values":[{"span":"F4-EpiSCs"}]},"mark":{"type":"rule","color":"#222","strokeWidth":1},"encoding":{"x":{"datum":6.57,"axis":null,"scale":{"domain":[0,10],"range":[23,309]}},"x2":{"datum":9.53},"y":{"datum":0,"axis":null,"scale":{"domain":[0,1],"range":[318,330]}}}},
{"data":{"values":[{"panel":"A"}]},"mark":{"type":"text","fontSize":24,"align":"left","baseline":"alphabetic","color":"#111"},"encoding":{"x":{"datum":0,"axis":null,"scale":{"domain":[0,1],"range":[9,10]}},"y":{"datum":0,"axis":null,"scale":{"domain":[0,1],"range":[20,21]}},"text":{"field":"panel","type":"nominal"}}}
]},
{"width":360,"height":335,
"resolve":{"scale":{"x":"independent","y":"independent"}},
"layer":[
{"data":{"name":"b"},"mark":{"type":"rect","strokeWidth":0.6},"encoding":{
"x":{"field":"c","type":"ordinal","axis":null,"scale":{"range":[70,357],"paddingInner":0,"paddingOuter":0}},
"y":{"field":"g","type":"ordinal","sort":null,"scale":{"range":[46,307],"paddingInner":0,"paddingOuter":0},"axis":{"title":null,"orient":"left","offset":-70,"domain":false,"ticks":false,"labelPadding":3,"labelFontSize":11.2,"labelFontStyle":"italic","labelColor":"#222","labelExpr":"split(datum.label,'#')[0]"}},
"color":{"field":"v","type":"quantitative","legend":null,"scale":{"domain":[1,2.2,3.3,4.5,5.9,7,7.95,8.05,8.6,9.9,11,12,13,15,16],"range":["#0a40f0","#0a3ce8","#0a3cc8","#0a38a8","#0a2c88","#0a2860","#0a2040","#3a2204","#4e2808","#702a04","#962c00","#b02c00","#cc3000","#ff3a00","#ff3c20"]}},
"stroke":{"field":"v","type":"quantitative","legend":null,"scale":{"domain":[1,2.2,3.3,4.5,5.9,7,7.95,8.05,8.6,9.9,11,12,13,15,16],"range":["#0a40f0","#0a3ce8","#0a3cc8","#0a38a8","#0a2c88","#0a2860","#0a2040","#3a2204","#4e2808","#702a04","#962c00","#b02c00","#cc3000","#ff3a00","#ff3c20"]}}}},
{"data":{"name":"b"},"mark":{"type":"text","fontSize":11,"color":"#ececec"},"encoding":{
"x":{"field":"c","type":"ordinal","axis":null,"scale":{"range":[70,357],"paddingInner":0,"paddingOuter":0}},
"y":{"field":"g","type":"ordinal","sort":null,"axis":null,"scale":{"range":[46,307],"paddingInner":0,"paddingOuter":0}},
"text":{"field":"v","type":"nominal"}}},
{"data":{"name":"sep6"},"mark":{"type":"rule","color":"white","strokeWidth":2},"encoding":{"x":{"field":"at","type":"quantitative","axis":null,"scale":{"domain":[0,6],"range":[70,357]}},"y":{"datum":0,"axis":null,"scale":{"domain":[0,1],"range":[46,307]}},"y2":{"datum":1}}},
{"data":{"name":"bar"},"mark":"rect","encoding":{"x":{"field":"l","type":"quantitative","axis":null,"scale":{"domain":[1,9,16],"range":[71,198,352]}},"x2":{"field":"n"},"y":{"datum":0,"axis":null,"scale":{"domain":[0,1],"range":[36,42]}},"y2":{"datum":1},
"color":{"field":"l","type":"quantitative","legend":null,"scale":{"domain":[1,2.2,3.3,4.5,5.9,7,7.95,8.05,8.6,9.9,11,12,13,15,16],"range":["#0a40f0","#0a3ce8","#0a3cc8","#0a38a8","#0a2c88","#0a2860","#0a2040","#3a2204","#4e2808","#702a04","#962c00","#b02c00","#cc3000","#ff3a00","#ff3c20"]}}}},
{"data":{"name":"levels"},"mark":{"type":"text","fontSize":11,"color":"#222"},"encoding":{"x":{"field":"l","type":"quantitative","axis":null,"scale":{"domain":[1,9,16],"range":[71,198,352]}},"y":{"datum":0,"axis":null,"scale":{"domain":[0,1],"range":[30,36]}},"text":{"field":"l","type":"nominal"}}},
{"data":{"name":"groups"},"mark":{"type":"text","fontSize":14,"color":"#111"},"encoding":{"x":{"field":"order","type":"quantitative","axis":null,"scale":{"domain":[1,2,3,4,5,6],"range":[94,144,190.7,236.7,287.7,334.3]}},"y":{"field":"line","type":"quantitative","axis":null,"scale":{"domain":[1,2],"range":[318.3,334]}},"text":{"field":"group","type":"nominal"}}},
{"data":{"values":[{"span":"F4-EpiSCs"}]},"mark":{"type":"rule","color":"#222","strokeWidth":1},"encoding":{"x":{"datum":4.2,"axis":null,"scale":{"domain":[0,6],"range":[70,357]}},"x2":{"datum":5.8},"y":{"datum":0,"axis":null,"scale":{"domain":[0,1],"range":[326,330]}}}},
{"data":{"values":[{"panel":"B"}]},"mark":{"type":"text","fontSize":24,"align":"left","baseline":"alphabetic","color":"#111"},"encoding":{"x":{"datum":0,"axis":null,"scale":{"domain":[0,1],"range":[37,38]}},"y":{"datum":0,"axis":null,"scale":{"domain":[0,1],"range":[23,24]}},"text":{"field":"panel","type":"nominal"}}}
]},
{"width":360,"height":326,
"resolve":{"scale":{"x":"independent","y":"independent"}},
"layer":[
{"data":{"name":"c"},"mark":{"type":"rect","strokeWidth":0.6},"encoding":{
"x":{"field":"c","type":"ordinal","sort":null,"axis":null,"scale":{"range":[35,322],"paddingInner":0,"paddingOuter":0}},
"y":{"field":"g","type":"ordinal","sort":null,"scale":{"range":[50,289],"paddingInner":0,"paddingOuter":0},"axis":{"title":null,"orient":"left","offset":-35,"domain":false,"ticks":false,"labelPadding":3,"labelFontSize":7.4,"labelFontStyle":"italic","labelColor":"#333","labelExpr":"split(datum.label,'#')[0]"}},
"color":{"field":"v","type":"quantitative","legend":null,"scale":{"domain":[1,2.2,3.3,4.5,5.9,7,7.95,8.05,8.6,9.9,11,12,13,15,16],"range":["#0a40f0","#0a3ce8","#0a3cc8","#0a38a8","#0a2c88","#0a2860","#0a2040","#3a2204","#4e2808","#702a04","#962c00","#b02c00","#cc3000","#ff3a00","#ff3c20"]}},
"stroke":{"field":"v","type":"quantitative","legend":null,"scale":{"domain":[1,2.2,3.3,4.5,5.9,7,7.95,8.05,8.6,9.9,11,12,13,15,16],"range":["#0a40f0","#0a3ce8","#0a3cc8","#0a38a8","#0a2c88","#0a2860","#0a2040","#3a2204","#4e2808","#702a04","#962c00","#b02c00","#cc3000","#ff3a00","#ff3c20"]}}}},
{"data":{"name":"c"},"mark":{"type":"text","fontSize":7,"color":"#e4e4e4"},"encoding":{
"x":{"field":"c","type":"ordinal","sort":null,"axis":null,"scale":{"range":[35,322],"paddingInner":0,"paddingOuter":0}},
"y":{"field":"g","type":"ordinal","sort":null,"axis":null,"scale":{"range":[50,289],"paddingInner":0,"paddingOuter":0}},
"text":{"field":"v","type":"nominal"}}},
{"data":{"name":"sep10"},"mark":{"type":"rule","color":"white","strokeWidth":1.6},"encoding":{"x":{"field":"at","type":"quantitative","axis":null,"scale":{"domain":[0,10],"range":[35,322]}},"y":{"datum":0,"axis":null,"scale":{"domain":[0,1],"range":[50,289]}},"y2":{"datum":1}}},
{"data":{"name":"bar"},"mark":"rect","encoding":{"x":{"field":"l","type":"quantitative","axis":null,"scale":{"domain":[1,9,16],"range":[36,162.7,316.7]}},"x2":{"field":"n"},"y":{"datum":0,"axis":null,"scale":{"domain":[0,1],"range":[41,47.5]}},"y2":{"datum":1},
"color":{"field":"l","type":"quantitative","legend":null,"scale":{"domain":[1,2.2,3.3,4.5,5.9,7,7.95,8.05,8.6,9.9,11,12,13,15,16],"range":["#0a40f0","#0a3ce8","#0a3cc8","#0a38a8","#0a2c88","#0a2860","#0a2040","#3a2204","#4e2808","#702a04","#962c00","#b02c00","#cc3000","#ff3a00","#ff3c20"]}}}},
{"data":{"name":"levels"},"mark":{"type":"text","fontSize":11.5,"color":"#222"},"encoding":{"x":{"field":"l","type":"quantitative","axis":null,"scale":{"domain":[1,9,16],"range":[36,162.7,316.7]}},"y":{"datum":0,"axis":null,"scale":{"domain":[0,1],"range":[33.3,40]}},"text":{"field":"l","type":"nominal"}}},
{"data":{"name":"groups"},"mark":{"type":"text","fontSize":14,"color":"#111"},"encoding":{"x":{"field":"order","type":"quantitative","axis":null,"scale":{"domain":[1,2,3,4,5,6],"range":[71,129.3,171.7,201,241,295]}},"y":{"field":"line","type":"quantitative","axis":null,"scale":{"domain":[1,2],"range":[301,316.7]}},"text":{"field":"group","type":"nominal"}}},
{"data":{"values":[{"span":"F4-EpiSCs"}]},"mark":{"type":"rule","color":"#222","strokeWidth":1},"encoding":{"x":{"datum":6.66,"axis":null,"scale":{"domain":[0,10],"range":[35,322]}},"x2":{"datum":9.58},"y":{"datum":0,"axis":null,"scale":{"domain":[0,1],"range":[309,320]}}}},
{"data":{"values":[{"panel":"C"}]},"mark":{"type":"text","fontSize":24,"align":"left","baseline":"alphabetic","color":"#111"},"encoding":{"x":{"datum":0,"axis":null,"scale":{"domain":[0,1],"range":[4,5]}},"y":{"datum":0,"axis":null,"scale":{"domain":[0,1],"range":[24,25]}},"text":{"field":"panel","type":"nominal"}}}
]},
{"width":360,"height":326,
"resolve":{"axis":{"x":"independent"}},
"layer":[
{"data":{"values":[{"frame":"box"}]},"mark":{"type":"rect","fill":"transparent","stroke":"#444","strokeWidth":1},"encoding":{
"x":{"datum":0.125,"scale":{"domain":[0.125,0.007],"range":[44.7,184],"nice":false},"axis":{"title":null,"orient":"bottom","offset":-57,"values":[0.12,0.1,0.08,0.06,0.04,0.02],"format":".2~f","grid":false,"domain":false,"ticks":false,"labelPadding":4,"labelFontSize":9,"labelColor":"#333"}},"x2":{"datum":0.007},
"y":{"datum":-0.115,"scale":{"domain":[-0.115,10.99],"range":[33,269],"nice":false},"axis":{"title":null,"orient":"left","offset":-44.7,"values":[1,2,3,4,5,6,7,8,9,10],"labels":false,"grid":false,"domain":false,"tickSize":-3,"tickColor":"#444"}},"y2":{"datum":10.99}}},
{"data":{"name":"links"},"mark":{"type":"rule","strokeWidth":1.8},"encoding":{
"x":{"field":"a","type":"quantitative","axis":{"title":null,"orient":"top","offset":-33,"values":[0.12,0.1,0.08,0.06,0.04,0.02],"labels":false,"grid":false,"domain":false,"tickSize":-3,"tickColor":"#444"}},"x2":{"field":"b"},
"y":{"field":"p","type":"quantitative"},"y2":{"field":"q"},
"color":{"field":"k","type":"nominal","legend":null,"scale":{"domain":["blue","red","black"],"range":["#2050f0","#ff3010","#222222"]}}}},
{"data":{"name":"leaves"},"mark":{"type":"text","fontSize":14,"align":"left","color":"#111"},"encoding":{"x":{"datum":0.0039,"axis":null},"y":{"field":"leaf","type":"quantitative"},"text":{"field":"name","type":"nominal"}}},
{"data":{"values":[{"panel":"D"}]},"mark":{"type":"text","fontSize":24,"align":"left","baseline":"alphabetic","color":"#111"},"encoding":{"x":{"datum":0.1442,"axis":null},"y":{"datum":-0.49},"text":{"field":"panel","type":"nominal"}}}
]}
]}
